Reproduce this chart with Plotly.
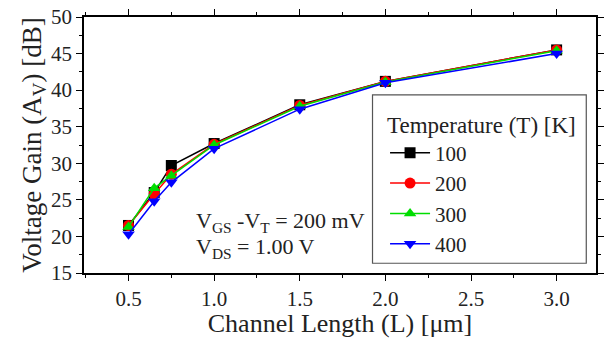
import plotly.graph_objects as go

length_um = [0.5, 0.65, 0.75, 1.0, 1.5, 2.0, 3.0]
gain_100K = [21.5, 26.0, 29.7, 32.7, 38.0, 41.2, 45.5]
gain_200K = [21.5, 25.8, 28.5, 32.6, 37.9, 41.2, 45.5]
gain_300K = [21.3, 26.6, 28.3, 32.5, 37.8, 41.1, 45.4]
gain_400K = [20.3, 24.8, 27.4, 32.0, 37.4, 41.0, 45.0]
series_names = ["100", "200", "300", "400"]
colors = ["#000000", "#ff0000", "#00dd00", "#0000ff"]
symbols = ["square", "circle", "triangle-up", "triangle-down"]

FONT = "Liberation Serif, Times New Roman, serif"
TXT = "#222"
fig = go.Figure()
for name, ys, c, s in zip(series_names, [gain_100K, gain_200K, gain_300K, gain_400K], colors, symbols):
    fig.add_trace(go.Scatter(x=length_um, y=ys, name=name, mode="lines+markers",
                             line=dict(color=c, width=1.5),
                             marker=dict(symbol=s, size=11, color=c)))

axis_common = dict(showline=True, linecolor="black", linewidth=1.5, mirror="ticks",
                   ticks="outside", ticklen=6, tickwidth=1.2, tickcolor="black",
                   showgrid=False, zeroline=False,
                   tickfont=dict(family=FONT, size=21, color=TXT))
fig.update_xaxes(range=[0.24, 3.23], tickvals=[0.5, 1.0, 1.5, 2.0, 2.5, 3.0],
                 ticktext=["0.5", "1.0", "1.5", "2.0", "2.5", "3.0"],
                 minor=dict(dtick=0.25, tick0=0.25, ticks="outside", ticklen=3, tickcolor="black"),
                 title=dict(text="Channel Length (L) [μm]", font=dict(family=FONT, size=26, color=TXT), standoff=2),
                 ticklabelstandoff=0,
                 **axis_common)
fig.update_yaxes(range=[15, 50], dtick=5,
                 minor=dict(dtick=2.5, ticks="outside", ticklen=3, tickcolor="black"),
                 title=dict(text="Voltage Gain (A<sub>V</sub>) [dB]", font=dict(family=FONT, size=27, color=TXT), standoff=2),
                 **axis_common)

fig.add_annotation(x=0.214, y=0.2, xref="paper", yref="paper", xanchor="left", yanchor="middle",
                   text="V<sub>GS</sub> -V<sub>T</sub> = 200 mV", showarrow=False,
                   font=dict(family=FONT, size=22, color=TXT))
fig.add_annotation(x=0.214, y=0.097, xref="paper", yref="paper", xanchor="left", yanchor="middle",
                   text="V<sub>DS</sub> = 1.00 V", showarrow=False,
                   font=dict(family=FONT, size=22, color=TXT))

# legend frame
fig.add_shape(type="rect", xref="paper", yref="paper", x0=0.5635, x1=0.981, y0=0.038, y1=0.696,
              line=dict(color="#555", width=1.2), fillcolor="white", layer="below")

fig.update_layout(
    width=609, height=338, margin=dict(l=84, r=5, t=13, b=65),
    plot_bgcolor="white", paper_bgcolor="white",
    legend=dict(x=0.588, y=0.665, xanchor="left", yanchor="top",
                bgcolor="rgba(0,0,0,0)", borderwidth=0,
                title=dict(text="Temperature (T) [K]", font=dict(family=FONT, size=23, color=TXT)),
                font=dict(family=FONT, size=21, color=TXT),
                tracegroupgap=0, itemwidth=40),
)
fig.write_html("out.html")
